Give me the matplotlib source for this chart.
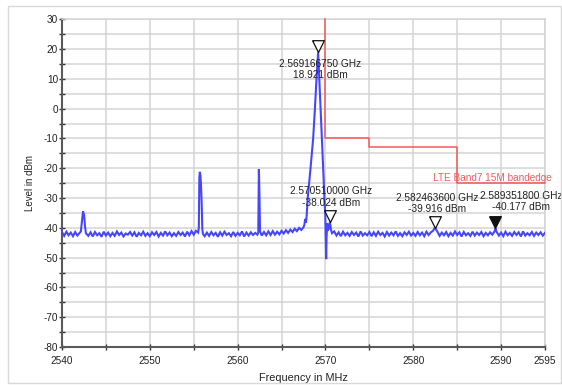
import matplotlib
matplotlib.use("Agg")
import matplotlib.pyplot as plt
from matplotlib.patches import Rectangle
from matplotlib.ticker import FixedLocator, FixedFormatter

plt.rcParams['font.family'] = ['Liberation Sans', 'DejaVu Sans']

# ---------------- data ----------------
trace_freq_mhz = [
    2540.0, 2540.25, 2540.5, 2540.75, 2541.0, 2541.25, 2541.5, 2541.75, 2542.0,
    2542.15, 2542.28, 2542.4, 2542.52, 2542.62, 2542.72,
    2543.0, 2543.25, 2543.5, 2543.75, 2544.0, 2544.25, 2544.5, 2544.75, 2545.0, 2545.25,
    2545.5, 2545.75, 2546.0, 2546.25, 2546.5, 2546.75, 2547.0, 2547.25, 2547.5, 2547.75,
    2548.0, 2548.25, 2548.5, 2548.75, 2549.0, 2549.25, 2549.5, 2549.75, 2550.0, 2550.25,
    2550.5, 2550.75, 2551.0, 2551.25, 2551.5, 2551.75, 2552.0, 2552.25, 2552.5, 2552.75,
    2553.0, 2553.25, 2553.5, 2553.75, 2554.0, 2554.25, 2554.5, 2554.75, 2555.0, 2555.25, 2555.5,
    2555.58, 2555.64, 2555.7, 2555.76, 2555.82, 2555.9, 2555.98, 2556.05,
    2556.25, 2556.5, 2556.75, 2557.0, 2557.25, 2557.5, 2557.75, 2558.0, 2558.25, 2558.5,
    2558.75, 2559.0, 2559.25, 2559.5, 2559.75, 2560.0, 2560.25, 2560.5, 2560.75, 2561.0,
    2561.25, 2561.5, 2561.75, 2562.0, 2562.25,
    2562.35, 2562.42, 2562.48, 2562.55,
    2562.75, 2563.0, 2563.25, 2563.5, 2563.75, 2564.0, 2564.25, 2564.5, 2564.75, 2565.0,
    2565.25, 2565.5, 2565.75, 2566.0, 2566.25, 2566.5, 2566.75, 2567.0, 2567.25, 2567.5,
    2567.6, 2567.7, 2567.78, 2567.86, 2567.98, 2568.3, 2568.6, 2568.8, 2568.98, 2569.16675,
    2569.3, 2569.45, 2569.6, 2569.74, 2569.88, 2569.98, 2570.03, 2570.08, 2570.13, 2570.2,
    2570.28, 2570.4, 2570.51, 2570.62, 2570.75,
    2571.0, 2571.25, 2571.5, 2571.75, 2572.0, 2572.25, 2572.5, 2572.75, 2573.0, 2573.25,
    2573.5, 2573.75, 2574.0, 2574.25, 2574.5, 2574.75, 2575.0, 2575.25, 2575.5, 2575.75,
    2576.0, 2576.25, 2576.5, 2576.75, 2577.0, 2577.25, 2577.5, 2577.75, 2578.0, 2578.25,
    2578.5, 2578.75, 2579.0, 2579.25, 2579.5, 2579.75, 2580.0, 2580.25, 2580.5, 2580.75,
    2581.0, 2581.25, 2581.5, 2581.75, 2582.0, 2582.25,
    2582.4636,
    2582.75, 2583.0, 2583.25, 2583.5, 2583.75, 2584.0, 2584.25, 2584.5, 2584.75, 2585.0,
    2585.25, 2585.5, 2585.75, 2586.0, 2586.25, 2586.5, 2586.75, 2587.0, 2587.25, 2587.5,
    2587.75, 2588.0, 2588.25, 2588.5, 2588.75, 2589.0, 2589.25,
    2589.3518,
    2589.5, 2589.75, 2590.0, 2590.25, 2590.5, 2590.75, 2591.0, 2591.25, 2591.5, 2591.75,
    2592.0, 2592.25, 2592.5, 2592.75, 2593.0, 2593.25, 2593.5, 2593.75, 2594.0, 2594.25,
    2594.5, 2594.75, 2595.0,
]

trace_level_dbm = [
    -41.5, -42.7, -41.3, -42.5, -41.6, -42.8, -41.4, -42.6, -41.7,
    -41.2, -37.5, -34.5, -35.8, -39.5, -41.8,
    -42.7, -41.5, -42.9, -41.4, -42.5, -41.8, -43.0, -41.3, -42.6, -41.6,
    -42.8, -41.7, -42.7, -41.2, -42.4, -41.6, -42.9, -41.9, -42.3, -41.4,
    -42.6, -41.5, -43.0, -41.7, -42.5, -41.3, -42.7, -41.8, -42.8, -41.5,
    -42.4, -41.4, -42.9, -41.7, -42.6, -41.2, -42.5, -41.6, -42.8, -41.8,
    -42.7, -41.4, -42.4, -41.6, -42.9, -41.3, -42.5, -41.1, -42.3, -41.0, -41.6,
    -40.0, -23.0, -21.2, -22.5, -25.0, -31.0, -40.5, -42.0,
    -42.8, -41.6, -42.7, -41.4, -42.5, -41.7, -43.0, -41.5, -42.6, -41.3,
    -42.4, -41.8, -42.8, -41.4, -42.7, -41.7, -42.5, -41.2, -42.9, -41.6,
    -42.6, -41.5, -42.4, -41.7, -42.3,
    -41.5, -20.3, -28.0, -41.2,
    -42.6, -41.4, -42.5, -41.2, -42.4, -41.1, -42.3, -41.3, -42.2, -41.0,
    -41.9, -40.8, -41.7, -40.6, -41.4, -40.3, -41.1, -40.0, -40.7, -39.8,
    -39.0, -37.0, -38.3, -36.0, -30.0, -20.0, -10.0, 0.0, 10.0, 18.921,
    10.0, 0.0, -10.0, -20.0, -30.0, -35.5, -44.0, -50.5, -43.0, -38.5,
    -41.0, -40.0, -38.024, -40.5, -41.8,
    -41.2, -42.6, -41.5, -42.8, -41.3, -42.5, -41.7, -42.7, -41.4, -42.4,
    -41.6, -42.9, -41.2, -42.6, -41.8, -42.5, -41.4, -42.8, -41.5, -42.7,
    -41.3, -42.4, -41.7, -42.9, -41.4, -42.6, -41.6, -42.5, -41.2, -42.7,
    -41.8, -42.8, -41.5, -42.4, -41.3, -42.6, -41.7, -42.7, -41.4, -42.5,
    -41.6, -42.8, -41.3, -42.4, -41.5, -41.0,
    -39.916,
    -41.3, -42.7, -41.6, -42.5, -41.4, -42.8, -41.7, -42.6, -41.2, -42.4,
    -41.5, -42.9, -41.4, -42.5, -41.8, -42.7, -41.3, -42.6, -41.6, -42.4,
    -41.4, -42.8, -41.7, -42.5, -41.5, -42.3, -41.2,
    -40.177,
    -41.4, -42.6, -41.6, -42.8, -41.3, -42.5, -41.7, -42.7, -41.4, -42.4,
    -41.5, -42.9, -41.2, -42.6, -41.8, -42.5, -41.4, -42.7, -41.6, -42.4,
    -41.5, -42.6, -41.7,
]

limit_freq_mhz = [2570, 2570, 2575, 2575, 2585, 2585, 2595]
limit_level_dbm = [30, -10, -10, -13, -13, -25, -25]
limit_label = "LTE Band7 15M bandedge"

marker_freq_ghz = [2.569166750, 2.570510000, 2.582463600, 2.589351800]
marker_level_dbm = [18.921, -38.024, -39.916, -40.177]
marker_filled = [False, False, False, True]
marker_text_offset_px = [(2, -17), (1, 25), (2, 24), (26, 27)]

x_ticks = [2540, 2545, 2550, 2555, 2560, 2565, 2570, 2575, 2580, 2585, 2590, 2595]
x_tick_labels = ["2540", "", "2550", "", "2560", "", "2570", "", "2580", "", "2590", "2595"]
y_ticks = [-80, -75, -70, -65, -60, -55, -50, -45, -40, -35, -30, -25, -20, -15, -10,
           -5, 0, 5, 10, 15, 20, 25, 30]
y_tick_labels = [str(v) if v % 10 == 0 else "" for v in y_ticks]

# ---------------- figure ----------------
fig = plt.figure(figsize=(5.62, 3.85), dpi=100)
fig.patch.set_facecolor("white")
fig.add_artist(Rectangle((8 / 562, 2 / 385), 553 / 562, 377 / 385, transform=fig.transFigure,
                         fill=False, edgecolor="#d9d9d9", linewidth=1.0))

ax = fig.add_axes([62 / 562, 1 - 347 / 385, 483 / 562, (347 - 19.3) / 385])
ax.set_xlim(2540, 2595)
ax.set_ylim(-80, 30)

grid_color = "#d4d4d4"
ax.xaxis.set_major_locator(FixedLocator(x_ticks))
ax.xaxis.set_major_formatter(FixedFormatter(x_tick_labels))
ax.yaxis.set_major_locator(FixedLocator(y_ticks))
ax.yaxis.set_major_formatter(FixedFormatter(y_tick_labels))
ax.grid(True, color=grid_color, linewidth=1.1)
ax.set_axisbelow(True)

for side in ("top", "right"):
    ax.spines[side].set_color(grid_color)
    ax.spines[side].set_linewidth(1.1)
for side in ("left", "bottom"):
    ax.spines[side].set_color("#5a5a5a")
    ax.spines[side].set_linewidth(1.5)

ax.tick_params(axis="both", direction="inout", length=4.5, width=1.0, color="#333333",
               labelsize=7.2, labelcolor="#222222")
ax.tick_params(axis="y", pad=0.5)
ax.tick_params(axis="x", pad=4)

ax.set_xlabel("Frequency in MHz", fontsize=7.8, color="#222222", labelpad=5)
ax.set_ylabel("Level in dBm", fontsize=7.0, color="#222222", labelpad=6)

# trace
ax.plot(trace_freq_mhz, trace_level_dbm, color="#4646ff", linewidth=1.5, zorder=3,
        solid_joinstyle="miter")

# limit line
ax.plot(limit_freq_mhz, limit_level_dbm, color="#f25a5a", linewidth=1.1, zorder=4,
        clip_on=False)
ax.text(2595.8, -23.2, limit_label, color="#f25a5a", fontsize=7.2, ha="right",
        va="center", clip_on=False, zorder=5)

# markers
tri = [(-0.5, 1.0), (0.5, 1.0), (0.0, 0.0), (-0.5, 1.0)]
for f, lv, filled, off in zip(marker_freq_ghz, marker_level_dbm, marker_filled,
                              marker_text_offset_px):
    fx = f * 1000
    ax.plot([fx], [lv], marker=tri, markersize=17, markeredgewidth=0.9,
            markeredgecolor="#111111",
            markerfacecolor="#111111" if filled else "white", linestyle="none", zorder=6,
            clip_on=False)
    ax.annotate(f"{f:.9f} GHz\n{lv:.3f} dBm", xy=(fx, lv), xytext=off,
                textcoords="offset pixels", ha="center", va="center",
                multialignment="center", fontsize=7.3, color="#222222", zorder=7,
                annotation_clip=False)

fig.savefig("out.png", dpi=100, facecolor="white")
